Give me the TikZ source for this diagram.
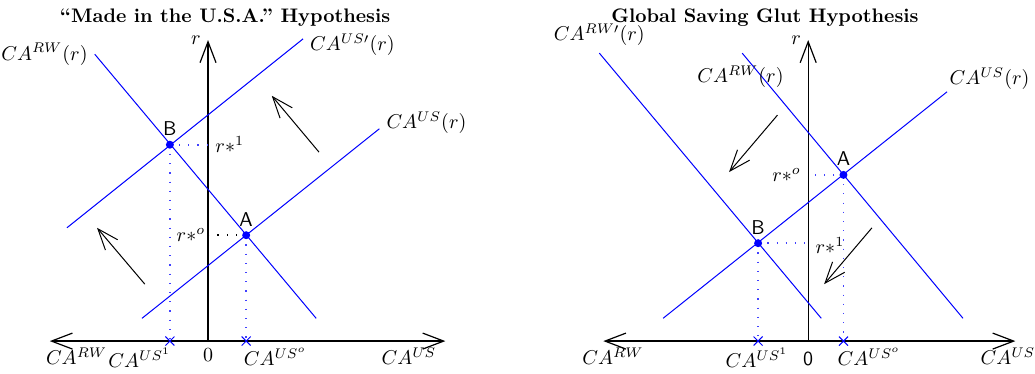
\documentclass[tikz,border=0pt]{standalone}
\usepackage{amsmath, amssymb}
\usepackage{tikz}
\usetikzlibrary{arrows.meta, shapes.misc}

\tikzset{
  curve/.style={blue, line width=0.5pt},
  guide/.style={blue!75, line width=0.8pt, dash pattern=on 0.6pt off 4pt},
  axis/.style={line width=0.6pt},
  shiftarrow/.style={line width=0.5pt, ->},
  xmark/.style={draw=blue, cross out, inner sep=2pt, line width=0.5pt},
  eqpt/.style={font=\sffamily, above=1pt},
  ttl/.style={font=\fontsize{9.8pt}{12pt}\selectfont\bfseries}
}

\begin{document}
\begin{tikzpicture}[>={Straight Barb[length=10.5pt,width=8pt]}]
  \useasboundingbox (-3.655,-0.562) rectangle (14.53,5.993);
  % left: made in the usa
  \coordinate (oL) at (0,0);
  \coordinate (bL) at (-0.67,3.45);
  \coordinate (aL) at (0.67,1.86);
  \node[ttl] (ttlL) at (0.30,5.69) {``Made in the U.S.A.'' Hypothesis};
  \draw[axis,<->] (-2.78,0) -- (4.17,0);
  \draw[axis,->] (oL) -- (0,5.29) node[left] (rL) {$r$};
  \draw[curve] (-1.99,5.04) node[black,left] (rwL) {$CA^{RW}(r)$} -- (1.90,0.40);
  \draw[curve] (-2.48,1.99) -- (1.67,5.31) node[black,anchor=west,yshift=-3pt] (usnL) {$CA^{US\prime}(r)$};
  \draw[curve] (-1.16,0.40) -- (3.01,3.73) node[black,anchor=west,yshift=3pt] (usL) {$CA^{US}(r)$};
  \draw[shiftarrow] (1.95,3.32) -- (1.12,4.31);
  \draw[shiftarrow] (-1.11,1.00) -- (-1.95,1.99);
  \draw[guide] (bL) -- (bL -| oL) node[black,right] (r1L) {$r{*}^1$};
  \draw[guide] (bL) -- (bL |- oL);
  \draw[black,dash pattern=on 0.6pt off 4pt,line width=0.8pt] (aL) -- (aL -| oL) node[black,left,inner sep=1pt] (r0L) {$r{*}^o$};
  \draw[guide] (aL) -- (aL |- oL);
  \node[xmark] (xbL) at (bL |- oL) {};
  \node[xmark] (xaL) at (aL |- oL) {};
  \fill[blue] (bL) circle (2pt);
  \fill[blue] (aL) circle (2pt);
  \node[eqpt] (labL) at (bL) {B};
  \node[eqpt] (laaL) at (aL) {A};
  \node[below] (crwL) at (-2.31,0) {$CA^{RW}$};
  \node[below] (c1L) at (-1.20,0) {$CA^{US^1}$};
  \node[below] (zL) at (0,0) {$0$};
  \node[below] (c0L) at (1.18,0) {$CA^{US^o}$};
  \node[below] (cusL) at (3.53,0) {$CA^{US}$};
  % right: global saving glut
  \begin{scope}[xshift=10.545cm]
    \coordinate (oR) at (0,0);
    \coordinate (aR) at (0.62,2.92);
    \coordinate (bR) at (-0.88,1.72);
    \node[ttl] (ttlR) at (-0.76,5.69) {Global Saving Glut Hypothesis};
    \draw[axis,<->] (-3.60,0) -- (3.64,0);
    \draw[axis,->] (oR) -- (0,5.29) node[left] (rR) {$r$};
    \draw[curve] (-3.67,5.06) node[black,above] (rwnR) {$CA^{RW\prime}(r)$} -- (0.23,0.40);
    \draw[curve] (-1.16,5.06) -- (2.72,0.40);
    \node (rwR) at (-1.19,4.64) {$CA^{RW}(r)$};
    \draw[curve] (-2.55,0.40) -- (2.44,4.38) node[black,above right,inner sep=1pt] (usR) {$CA^{US}(r)$};
    \draw[shiftarrow] (-0.54,3.97) -- (-1.39,2.97);
    \draw[shiftarrow] (1.12,1.99) -- (0.28,1.00);
    \draw[guide] (aR) -- (aR -| oR) node[black,left] (r0R) {$r{*}^o$};
    \draw[guide] (aR) -- (aR |- oR);
    \draw[guide] (bR) -- (bR -| oR) node[black,right,yshift=-1pt] (r1R) {$r{*}^1$};
    \draw[guide] (bR) -- (bR |- oR);
    \node[xmark] (xaR) at (aR |- oR) {};
    \node[xmark] (xbR) at (bR |- oR) {};
    \fill[blue] (aR) circle (2pt);
    \fill[blue] (bR) circle (2pt);
    \node[eqpt] (laaR) at (aR) {A};
    \node[eqpt] (labR) at (bR) {B};
    \node[below] (crwR) at (-3.43,0) {$CA^{RW}$};
    \node[below] (c1R) at (-0.90,0) {$CA^{US^1}$};
    \node[below,yshift=-2pt] (zR) at (0,0) {\textsf{0}};
    \node[below] (c0R) at (1.07,0) {$CA^{US^o}$};
    \node[below] (cusR) at (3.51,0) {$CA^{US}$};
  \end{scope}
\end{tikzpicture}
\end{document}
